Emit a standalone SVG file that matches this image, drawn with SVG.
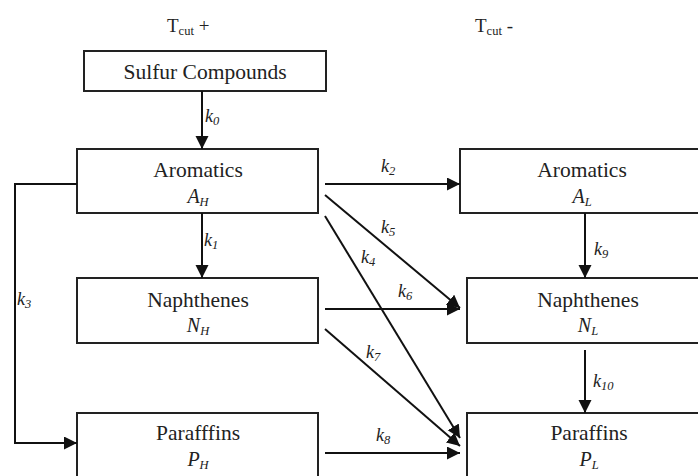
<svg xmlns="http://www.w3.org/2000/svg" width="698" height="476" viewBox="0 0 698 476">
  <style>
    .box { fill: #ffffff; stroke: #222222; stroke-width: 2; }
    .serif { font-family: "Liberation Serif", serif !important; fill: #222222; }
    .edge { fill: none; stroke: #111111; stroke-width: 2; marker-end: url(#arrow); }
  </style>
  <defs>
    <marker id="arrow" markerUnits="userSpaceOnUse" markerWidth="14" markerHeight="14" refX="13" refY="6.5" orient="auto">
      <path d="M0,0 L13,6.5 L0,13 z" fill="#111111"/>
    </marker>
  </defs>
  <rect width="698" height="476" fill="#ffffff"/>

  <!-- column headers -->
  <text class="serif" style="font-family:'Liberation Serif',serif" font-size="19" x="167" y="32">T<tspan font-size="12.5" dy="3">cut</tspan><tspan dy="-3"> +</tspan></text>
  <text class="serif" style="font-family:'Liberation Serif',serif" font-size="19" x="475" y="32">T<tspan font-size="12.5" dy="3">cut</tspan><tspan dy="-3"> -</tspan></text>

  <!-- heavy-cut nodes -->
  <g id="sulfur">
    <rect class="box" x="84" y="51" width="242" height="40"/>
    <text class="serif" style="font-family:'Liberation Serif',serif" font-size="21.5" text-anchor="middle" x="205" y="79">Sulfur Compounds</text>
  </g>
  <g id="aromatics-h">
    <rect class="box" x="77" y="149" width="241" height="64"/>
    <text class="serif" style="font-family:'Liberation Serif',serif" font-size="21.5" text-anchor="middle" x="198" y="177">Aromatics</text>
    <text class="serif" style="font-family:'Liberation Serif',serif" font-size="20" font-style="italic" text-anchor="middle" x="198" y="203">A<tspan font-size="12.5" dy="3">H</tspan></text>
  </g>
  <g id="naphthenes-h">
    <rect class="box" x="77" y="278" width="241" height="65"/>
    <text class="serif" style="font-family:'Liberation Serif',serif" font-size="21.5" text-anchor="middle" x="198" y="307">Naphthenes</text>
    <text class="serif" style="font-family:'Liberation Serif',serif" font-size="20" font-style="italic" text-anchor="middle" x="198" y="332">N<tspan font-size="12.5" dy="3">H</tspan></text>
  </g>
  <g id="paraffins-h">
    <rect class="box" x="77" y="413" width="241" height="64"/>
    <text class="serif" style="font-family:'Liberation Serif',serif" font-size="21.5" text-anchor="middle" x="198" y="440">Parafffins</text>
    <text class="serif" style="font-family:'Liberation Serif',serif" font-size="20" font-style="italic" text-anchor="middle" x="198" y="466">P<tspan font-size="12.5" dy="3">H</tspan></text>
  </g>

  <!-- light-cut nodes -->
  <g id="aromatics-l">
    <rect class="box" x="460" y="149" width="250" height="64"/>
    <text class="serif" style="font-family:'Liberation Serif',serif" font-size="21.5" text-anchor="middle" x="582" y="177">Aromatics</text>
    <text class="serif" style="font-family:'Liberation Serif',serif" font-size="20" font-style="italic" text-anchor="middle" x="582" y="203">A<tspan font-size="12.5" dy="3">L</tspan></text>
  </g>
  <g id="naphthenes-l">
    <rect class="box" x="467" y="278" width="250" height="65"/>
    <text class="serif" style="font-family:'Liberation Serif',serif" font-size="21.5" text-anchor="middle" x="588" y="307">Naphthenes</text>
    <text class="serif" style="font-family:'Liberation Serif',serif" font-size="20" font-style="italic" text-anchor="middle" x="588" y="332">N<tspan font-size="12.5" dy="3">L</tspan></text>
  </g>
  <g id="paraffins-l">
    <rect class="box" x="467" y="413" width="250" height="64"/>
    <text class="serif" style="font-family:'Liberation Serif',serif" font-size="21.5" text-anchor="middle" x="589" y="440">Paraffins</text>
    <text class="serif" style="font-family:'Liberation Serif',serif" font-size="20" font-style="italic" text-anchor="middle" x="589" y="466">P<tspan font-size="12.5" dy="3">L</tspan></text>
  </g>

  <!-- connectors -->
  <g id="connectors">
    <path class="edge" d="M202,91 V149"/>
    <path class="edge" d="M202,213 V278"/>
    <path class="edge" d="M325,184 H460"/>
    <path class="edge" d="M77,184 H15 V443 H77"/>
    <path class="edge" d="M325,195 L460,308"/>
    <path class="edge" d="M325,216 L460,438"/>
    <path class="edge" d="M325,309 H460"/>
    <path class="edge" d="M325,329 L460,446"/>
    <path class="edge" d="M325,453 H460"/>
    <path class="edge" d="M585,213 V278"/>
    <path class="edge" d="M585,350 V413"/>
  </g>

  <!-- rate constants -->
  <g id="rate-labels" font-size="18" font-style="italic">
    <text class="serif" style="font-family:'Liberation Serif',serif" x="205" y="122">k<tspan font-size="12.5" dy="3">0</tspan></text>
    <text class="serif" style="font-family:'Liberation Serif',serif" x="204" y="246">k<tspan font-size="12.5" dy="3">1</tspan></text>
    <text class="serif" style="font-family:'Liberation Serif',serif" x="381" y="172">k<tspan font-size="12.5" dy="3">2</tspan></text>
    <text class="serif" style="font-family:'Liberation Serif',serif" x="17" y="305">k<tspan font-size="12.5" dy="3">3</tspan></text>
    <text class="serif" style="font-family:'Liberation Serif',serif" x="361" y="263">k<tspan font-size="12.5" dy="3">4</tspan></text>
    <text class="serif" style="font-family:'Liberation Serif',serif" x="381" y="233">k<tspan font-size="12.5" dy="3">5</tspan></text>
    <text class="serif" style="font-family:'Liberation Serif',serif" x="398" y="297">k<tspan font-size="12.5" dy="3">6</tspan></text>
    <text class="serif" style="font-family:'Liberation Serif',serif" x="366" y="358">k<tspan font-size="12.5" dy="3">7</tspan></text>
    <text class="serif" style="font-family:'Liberation Serif',serif" x="376" y="441">k<tspan font-size="12.5" dy="3">8</tspan></text>
    <text class="serif" style="font-family:'Liberation Serif',serif" x="594" y="255">k<tspan font-size="12.5" dy="3">9</tspan></text>
    <text class="serif" style="font-family:'Liberation Serif',serif" x="593" y="387">k<tspan font-size="12.5" dy="3">10</tspan></text>
  </g>
</svg>
